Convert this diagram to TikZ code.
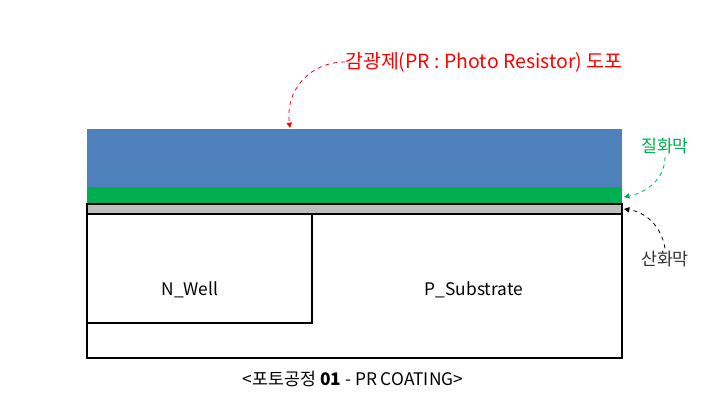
\documentclass[tikz,border=0pt]{standalone}
\usepackage{fontspec}
\setmainfont{Noto Sans CJK KR}
\usetikzlibrary{arrows.meta}
\definecolor{prblue}{HTML}{4F81BD}
\definecolor{nitgreen}{HTML}{00B050}
\definecolor{oxgrey}{HTML}{BFBFBF}
\definecolor{lblred}{HTML}{FF0000}
\tikzset{
  layer/.style={draw=none},
  boxline/.style={draw=black, line width=0.9pt},
  lbl/.style={inner sep=0pt, font=\fontsize{13}{15}\selectfont},
  callout/.style={dashed, line width=0.6pt, -{Triangle[length=4pt,width=4pt]}},
}
\begin{document}
\begin{tikzpicture}[x=0.75pt,y=-0.75pt]
\useasboundingbox (0,0) rectangle (707,411);
% layers
\fill[prblue] (87,129) rectangle (622,187);
\fill[nitgreen] (87,187) rectangle (622,204);
\draw[boxline, fill=oxgrey] (87,204) rectangle (622,214);
\draw[boxline] (87,214) rectangle (622,358);
\draw[boxline] (87,214) rectangle (312,323);
% named anchor points
\coordinate (prtop) at (290,128);
\coordinate (nitend) at (624,197);
\coordinate (oxend) at (624,209);
% labels
\node[lbl, anchor=center] (well) at (190,290) {N\_Well};
\node[lbl, anchor=center] (sub) at (474,290) {P\_Substrate};
\node[lbl, text=lblred, anchor=west, font=\fontsize{14.6}{17}\selectfont] (pr) at (345,62) {감광제(PR : Photo Resistor) 도포};
\node[lbl, text=nitgreen, anchor=center] (nit) at (665,146) {질화막};
\node[lbl, text=black!80, anchor=center] (ox) at (665,259) {산화막};
\node[lbl, anchor=center, font=\fontsize{13}{15}\selectfont] (cap) at (353,379) {<포토공정 \textbf{01} - PR COATING>};
% callouts
\draw[callout, lblred] (pr.west) .. controls (310,62) and (285,90) .. (prtop);
\draw[callout, nitgreen] ([yshift=-2pt]nit.south) .. controls (665,180) and (645,193) .. (nitend);
\draw[callout, black] ([yshift=2pt]ox.north) .. controls (661,225) and (645,212) .. (oxend);
\end{tikzpicture}
\end{document}
